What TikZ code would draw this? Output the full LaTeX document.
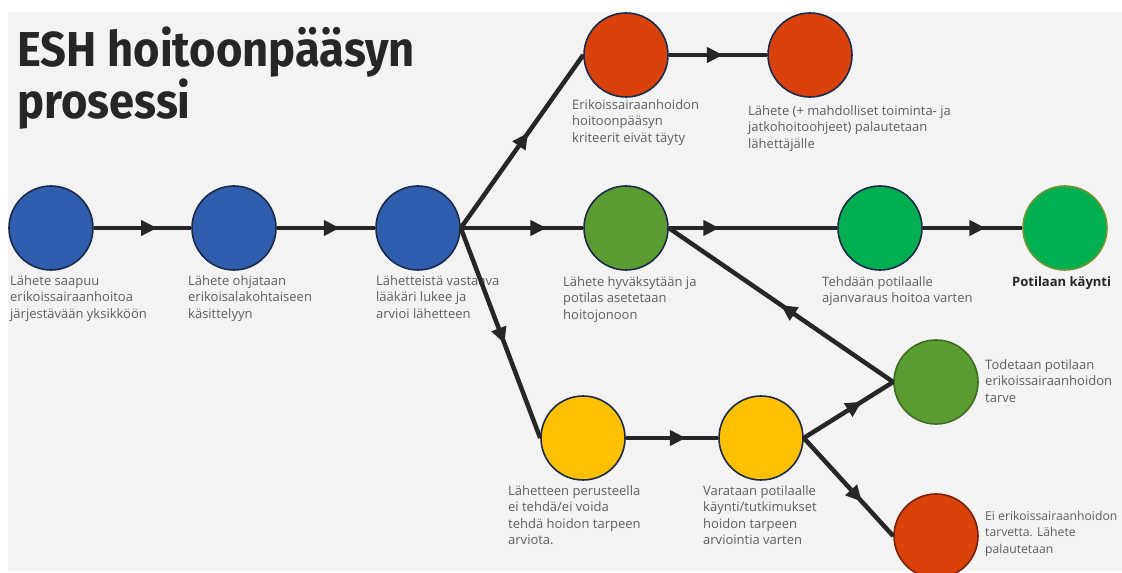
\documentclass[tikz,border=0pt]{standalone}
\usepackage{fontspec}
\setmainfont{Open Sans}
\newfontfamily\titlefont{Fira Sans}
\usetikzlibrary{arrows.meta, decorations.markings}

\definecolor{bggray}{HTML}{F3F3F3}
\definecolor{linec}{HTML}{262626}
\definecolor{rimc}{HTML}{1C2A4A}
\definecolor{txtc}{HTML}{5E5E5E}
\definecolor{blu}{HTML}{2F5EAE}
\definecolor{red}{HTML}{D9420B}
\definecolor{drkgreen}{HTML}{5B9C32}
\definecolor{brtgreen}{HTML}{00B050}
\definecolor{ylw}{HTML}{FFC000}

\begin{document}
\begin{tikzpicture}[x=1pt, y=1pt,
    every node/.style={inner sep=0pt},
    st/.style={draw=rimc, line width=1.6pt, circle, minimum size=84pt, fill=#1},
    lbl/.style={anchor=north west, align=left, text=txtc,
      font=\fontsize{13}{16.5}\selectfont},
    flow/.style={line width=4.5pt, draw=linec, color=linec, postaction={decorate},
      decoration={markings,
        mark=at position #1 with {\arrow{Triangle[length=16pt, width=15pt]}}}},
    flow/.default=0.62]
    \useasboundingbox (0, 0) rectangle (1122, 573);
    \fill [white] (0, 0) rectangle (1122, 573);
    \fill [bggray] (8, 2) rectangle (1122, 561);

    \node [anchor=north west, align=left, text=black!85,
      font=\titlefont\bfseries\fontsize{49}{41}\selectfont] (title) at (17, 546)
      {\scalebox{0.925}[1]{ESH hoitoonpääsyn}\\\scalebox{0.925}[1]{prosessi}};

    \node [st=blu] (b1) at (51, 345) {};
    \node [st=blu] (b2) at (234, 345) {};
    \node [st=blu] (b3) at (418, 345) {};
    \node [st=red] (r1) at (626, 518) {};
    \node [st=red] (r2) at (810, 518) {};
    \node [st=drkgreen] (g1) at (626, 345) {};
    \node [st=brtgreen] (g2) at (880, 345) {};
    \node [st=brtgreen, draw=drkgreen!80!brown] (g3) at (1065, 345) {};
    \node [st=drkgreen, draw=drkgreen!70!black] (g4) at (936, 191) {};
    \node [st=ylw] (y1) at (583, 135) {};
    \node [st=ylw] (y2) at (761, 135) {};
    \node [st=red, draw=red!55!black] (r3) at (936, 37) {};

    \node [lbl] (tb1) at (10, 298) {Lähete saapuu\\erikoissairaanhoitoa\\järjestävään yksikköön};
    \node [lbl] (tb2) at (188, 298) {Lähete ohjataan\\erikoisalakohtaiseen\\käsittelyyn};
    \node [lbl] (tb3) at (376, 298) {Lähetteistä vastaava\\lääkäri lukee ja\\arvioi lähetteen};
    \node [lbl] (tr1) at (572, 474) {Erikoissairaanhoidon\\hoitoonpääsyn\\kriteerit eivät täyty};
    \node [lbl] (tr2) at (748, 468) {Lähete (+ mahdolliset toiminta- ja\\jatkohoitoohjeet) palautetaan\\lähettäjälle};
    \node [lbl] (tg1) at (563, 297) {Lähete hyväksytään ja\\potilas asetetaan\\hoitojonoon};
    \node [lbl] (tg2) at (822, 297) {Tehdään potilaalle\\ajanvaraus hoitoa varten};
    \node [lbl, text=black!85] (tg3) at (1012, 297) {\textbf{Potilaan käynti}};
    \node [lbl] (tg4) at (985, 214) {Todetaan potilaan\\erikoissairaanhoidon\\tarve};
    \node [lbl] (ty1) at (508, 88) {Lähetteen perusteella\\ei tehdä/ei voida\\tehdä hoidon tarpeen\\arviota.};
    \node [lbl] (ty2) at (703, 88) {Varataan potilaalle\\käynti/tutkimukset\\hoidon tarpeen\\arviointia varten};
    \node [lbl, font=\fontsize{12.2}{16.5}\selectfont] (tr3) at (985, 62)
      {Ei erikoissairaanhoidon\\tarvetta. Lähete\\palautetaan};

    % main line
    \draw [flow=0.65] (b1.east) -- (b2.west);
    \draw [flow=0.64] (b2.east) -- (b3.west);
    \draw [flow=0.55] (b3.east) -- (r1.west);
    \draw [flow=0.7] (b3.east) -- (g1.west);
    \draw [flow=0.55] (b3.east) -- (y1.west);
    \draw [flow=0.55] (r1.east) -- (r2.west);
    \draw [flow=0.3] (g1.east) -- (g2.west);
    \draw [flow=0.63] (g2.east) -- (g3.west);
    % lower branch
    \draw [flow=0.65] (y1.east) -- (y2.west);
    \draw [flow=0.65] (y2.east) -- (g4.west);
    \draw [flow=0.65] (y2.east) -- (r3.west);
    \draw [flow=0.5] (g4.west) -- (g1.east);
\end{tikzpicture}
\end{document}
